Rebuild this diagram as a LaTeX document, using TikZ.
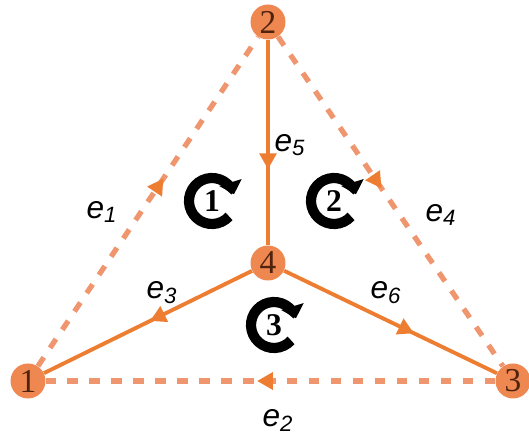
\documentclass[tikz,border=0pt]{standalone}
\usepackage{fontspec}
\setmainfont{Liberation Serif}
\setsansfont{Liberation Sans}
\usetikzlibrary{arrows.meta, decorations.markings}
\definecolor{edgeorange}{RGB}{237,125,49}
\definecolor{dashorange}{RGB}{239,150,110}
\definecolor{vertexorange}{RGB}{238,135,80}
\definecolor{vertextext}{RGB}{80,35,15}

\begin{document}
\begin{tikzpicture}[
    x=0.02cm, y=0.02cm,
    vertex/.style={
        circle,
        fill=vertexorange,
        inner sep=0pt,
        minimum size=0.7cm,
        text=vertextext,
        font=\fontsize{19}{19}\selectfont
    },
    tree/.style={edgeorange, line width=2.2pt},
    chord/.style={dashorange, line width=3pt, dash pattern=on 6pt off 6.5pt},
    flow/.style={
        postaction={decorate},
        decoration={markings,
            mark=at position #1 with {\arrow[edgeorange]{Triangle[width=9.5pt,length=9pt]}}}
    },
    elabel/.style={font=\sffamily\itshape\fontsize{18}{18}\selectfont},
    mesh/.style={font=\bfseries\fontsize{18}{18}\selectfont, inner sep=0pt},
    circulation/.style={line width=5.8pt, -{Triangle[width=13pt,length=7pt]}}
]
\useasboundingbox (0,0) rectangle (529,436);

% vertices
\node[vertex] (n1) at (28,55) {1};
\node[vertex] (n2) at (268,414) {2};
\node[vertex] (n3) at (513,55) {3};
\node[vertex] (n4) at (268,173) {4};

% chords (dashed)
\draw[chord, flow=0.57] (n1) -- (n2);
\draw[chord, flow=0.53] (n3) -- (n1);
\draw[chord, flow=0.46] (n2) -- (n3);

% tree edges
\draw[tree, flow=0.49] (n4) -- (n1);
\draw[tree, flow=0.63] (n2) -- (n4);
\draw[tree, flow=0.61] (n4) -- (n3);

% edge labels
\node[elabel] (e1) at (102,224) {e\textsubscript{1}};
\node[elabel] (e2) at (278,16) {e\textsubscript{2}};
\node[elabel] (e3) at (162,143) {e\textsubscript{3}};
\node[elabel] (e4) at (441,221) {e\textsubscript{4}};
\node[elabel] (e5) at (290,291) {e\textsubscript{5}};
\node[elabel] (e6) at (386,143) {e\textsubscript{6}};

% meshes
\node[mesh] (c1) at (212,235) {1};
\node[mesh] (c2) at (334,235) {2};
\node[mesh] (c3) at (274,111) {3};
\foreach \c in {c1,c2,c3}
    \draw[circulation] ([shift={(-42:0.46cm)}]\c.center) arc[start angle=-42, end angle=-343, radius=0.46cm];

\end{tikzpicture}
\end{document}
